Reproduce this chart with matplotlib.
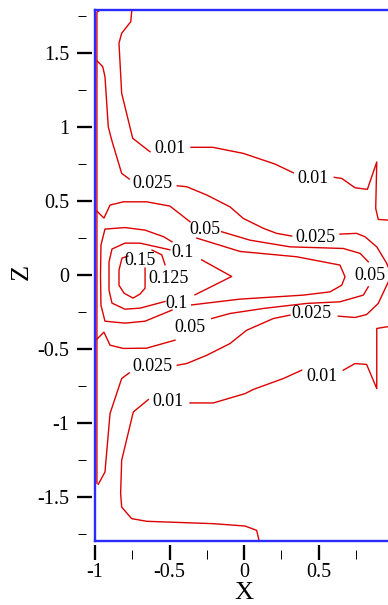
import numpy as np
import matplotlib

matplotlib.use('Agg')
import matplotlib.pyplot as plt

plt.rcParams['font.family'] = ['Liberation Serif', 'DejaVu Serif']
plt.rcParams['axes.unicode_minus'] = False

nan = np.nan

# contour lines (NaN = gap left for a label)
lvl010_top_x = [-0.752, -0.760, -0.821, -0.839, -0.821, -0.747, -0.631, nan,
                -0.356, -0.210, -0.005, 0.208, 0.331, nan,
                0.606, 0.656, 0.745, 0.828, 0.891, 0.884, 0.901, 0.958, 1.0]
lvl010_top_y = [1.80, 1.711, 1.633, 1.566, 1.228, 0.924, 0.833, nan,
                0.863, 0.863, 0.822, 0.750, 0.691, nan,
                0.660, 0.653, 0.590, 0.579, 0.764, 0.451, 0.376, 0.372, 0.37]

lvl010_bot_x = [0.103, 0.085, 0.007, -0.206, -0.653, -0.754, -0.821, -0.828, -0.821, -0.743, -0.642, nan,
                -0.362, -0.206, 0.007, 0.062, 0.264, 0.387, nan,
                0.666, 0.745, 0.823, 0.891, 0.891, 0.958, 1.0]
lvl010_bot_y = [-1.80, -1.723, -1.694, -1.678, -1.662, -1.644, -1.566, -1.475, -1.25, -0.924, -0.840, nan,
                -0.863, -0.863, -0.80, -0.772, -0.698, -0.642, nan,
                -0.642, -0.597, -0.603, -0.766, -0.360, -0.349, -0.35]

lvl025_x = [-0.985, -0.948, -0.933, -0.911, -0.888, -0.821, -0.770, nan,
            -0.448, -0.385, -0.250, -0.094, -0.005, 0.130, 0.219, 0.320, nan,
            0.644, 0.756, 0.812, 0.891, 0.958, 0.99, 0.958, 0.901, 0.823, 0.745, 0.633, nan,
            0.309, 0.197, 0.018, -0.094, -0.250, -0.385, -0.448, nan,
            -0.770, -0.821, -0.899, -0.933, -0.978]
lvl025_y = [1.446, 1.407, 1.340, 1.002, 0.912, 0.687, 0.649, nan,
            0.603, 0.597, 0.541, 0.461, 0.383, 0.316, 0.282, 0.264, nan,
            0.277, 0.282, 0.259, 0.191, 0.079, 0.0, -0.068, -0.191, -0.266, -0.286, -0.277, nan,
            -0.270, -0.293, -0.372, -0.462, -0.541, -0.597, -0.608, nan,
            -0.660, -0.698, -0.934, -1.329, -1.412]

wall_x = [-0.966, -0.987, -0.987]
wall_y = [1.79, 1.775, -1.405]

lvl050_x = [-0.987, -0.940, -0.899, -0.810, -0.653, -0.497, -0.362, nan,
            -0.150, 0.040, 0.309, 0.666, 0.779, 0.834, nan,
            0.834, 0.801, 0.644, 0.421, 0.130, -0.094, -0.217, nan,
            -0.463, -0.653, -0.810, -0.899, -0.940, -0.987]
lvl050_y = [0.432, 0.385, 0.473, 0.495, 0.495, 0.466, 0.360, nan,
            0.293, 0.236, 0.191, 0.180, 0.147, 0.090, nan,
            -0.079, -0.135, -0.180, -0.191, -0.225, -0.259, -0.293, nan,
            -0.439, -0.493, -0.495, -0.473, -0.385, -0.432]

outer_x = [-0.483, -0.664, -0.799, -0.933, -0.960, -0.963, -0.960, -0.933, -0.799, -0.664, -0.539, -0.483, nan,
           -0.317, -0.027, 0.354, 0.644, 0.678, 0.656, 0.577, 0.398, -0.027, -0.351]
outer_y = [-0.236, -0.311, -0.324, -0.311, -0.203, 0.0, 0.203, 0.311, 0.321, 0.304, 0.259, 0.225, nan,
           0.250, 0.160, 0.124, 0.068, -0.011, -0.068, -0.113, -0.135, -0.162, -0.201]

lvl100_x = [-0.284, -0.083, -0.329, nan,
            -0.530, -0.698, -0.799, -0.886, -0.906, -0.906, -0.886, -0.799, -0.698, -0.497]
lvl100_y = [0.103, -0.009, -0.133, nan,
            -0.178, -0.223, -0.230, -0.189, -0.101, 0.088, 0.176, 0.216, 0.216, 0.171]

lvl125_x = [-0.617, -0.552, -0.530]
lvl125_y = [0.169, 0.137, 0.070]

lvl150_x = [-0.779, -0.819, -0.839, -0.839, -0.805, -0.745, -0.698, -0.664, -0.664]
lvl150_y = [0.128, 0.115, 0.034, -0.068, -0.122, -0.155, -0.128, -0.088, 0.047]

label_text = ['0.01', '0.01', '0.01', '0.01',
              '0.025', '0.025', '0.025', '0.025',
              '0.05', '0.05', '0.05',
              '0.1', '0.1', '0.15', '0.125']
label_x = [-0.497, 0.465, -0.508, 0.521,
           -0.613, 0.477, 0.454, -0.613,
           -0.262, 0.846, -0.362,
           -0.409, -0.452, -0.695, -0.503]
label_y = [0.858, 0.653, -0.856, -0.685,
           0.620, 0.253, -0.262, -0.615,
           0.309, 0.0, -0.355,
           0.155, -0.189, 0.101, -0.020]

x_major = [-1, -0.5, 0, 0.5]
x_major_labels = ['-1', '-0.5', '0', '0.5']
x_minor = [-0.75, -0.25, 0.25, 0.75]
y_major = [-1.5, -1, -0.5, 0, 0.5, 1, 1.5]
y_major_labels = ['-1.5', '-1', '-0.5', '0', '0.5', '1', '1.5']
y_minor = [-1.75, -1.25, -0.75, -0.25, 0.25, 0.75, 1.25, 1.75]

RED = '#dd0000'
BLUE = '#2b2bff'
PX = 0.72  # points per pixel at dpi 100

fig = plt.figure(figsize=(3.88, 6.05), dpi=100)
ax = fig.add_axes([95 / 388, 64 / 605, 298 / 388, 531 / 605])
ax.set_xlim(-1, 1)
ax.set_ylim(-1.795, 1.79)
ax.set_xticks([])
ax.set_yticks([])
for s in ax.spines.values():
    s.set_color(BLUE)
    s.set_linewidth(1.7)

lines = [(lvl010_top_x, lvl010_top_y), (lvl010_bot_x, lvl010_bot_y),
         (lvl025_x, lvl025_y), (wall_x, wall_y), (lvl050_x, lvl050_y),
         (outer_x, outer_y), (lvl100_x, lvl100_y), (lvl125_x, lvl125_y),
         (lvl150_x, lvl150_y)]
for xs, ys in lines:
    ax.plot(xs, ys, color=RED, lw=1.0)

for t, x, y in zip(label_text, label_x, label_y):
    ax.text(x, y, t, ha='center', va='center', fontsize=13, color='black')


# ticks sit a little away from the frame, minor ones further out (Tecplot style)
def tick_axis(which, ticks, labels, offset, length, width):
    if which == 'y':
        sec = ax.secondary_yaxis('left')
        side = 'left'
    else:
        sec = ax.secondary_xaxis('bottom')
        side = 'bottom'
    sec.spines[side].set_position(('outward', offset * PX))
    sec.spines[side].set_visible(False)
    if labels is None:
        sec.set_ticks(ticks)
        sec.tick_params(axis=which, direction='out', length=length * PX, width=width * PX,
                        labelleft=False, labelbottom=False)
    else:
        sec.set_ticks(ticks, labels=labels)
        sec.tick_params(axis=which, direction='out', length=length * PX, width=width * PX,
                        labelsize=14.5, pad=(5 if which == 'y' else 2.5))
    return sec


tick_axis('y', y_major, y_major_labels, 3.5, 15, 2.3)
tick_axis('y', y_minor, None, 9, 8.5, 1.0)
tick_axis('x', x_major, x_major_labels, 4, 15, 2.3)
tick_axis('x', x_minor, None, 9, 8.5, 1.0)

fig.text(244 / 388, 1 - 593 / 605, 'X', ha='center', va='center', fontsize=19)
fig.text(22 / 388, 1 - 272 / 605, 'Z', ha='center', va='center', fontsize=19, rotation=90)

fig.savefig('out.png', dpi=100)
